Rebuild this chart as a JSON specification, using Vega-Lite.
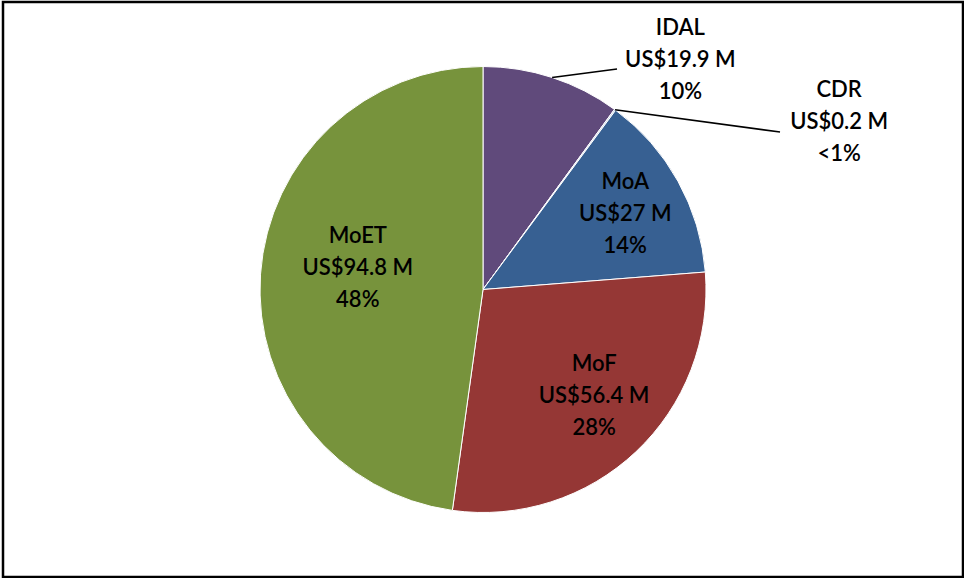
{
  "$schema": "https://vega.github.io/schema/vega-lite/v6.json",
  "width": 964,
  "height": 578,
  "autosize": {"type": "fit", "contains": "padding"},
  "padding": {"left": 3, "top": 2, "right": 1, "bottom": 1},
  "background": "white",
  "view": {"stroke": "black", "strokeWidth": 2.5},
  "config": {"text": {"font": "Lato", "fontSize": 22, "fontWeight": 600, "lineHeight": 32, "color": "black"}},
  "datasets": {
    "budget": [
      {"idx": 1, "name": "IDAL", "value": 19.9, "label": "IDAL\nUS$19.9 M\n10%"},
      {"idx": 2, "name": "CDR", "value": 0.2, "label": "CDR\nUS$0.2 M\n<1%"},
      {"idx": 3, "name": "MoA", "value": 27, "label": "MoA\nUS$27 M\n14%"},
      {"idx": 4, "name": "MoF", "value": 56.4, "label": "MoF\nUS$56.4 M\n28%"},
      {"idx": 5, "name": "MoET", "value": 94.8, "label": "MoET\nUS$94.8 M\n48%"}
    ],
    "leaders": [
      {"name": "IDAL", "x1": 0.310, "y1": 0.951, "x2": 0.601, "y2": 0.989},
      {"name": "CDR", "x1": 0.592, "y1": 0.806, "x2": 1.332, "y2": 0.706}
    ]
  },
  "layer": [
    {
      "data": {"name": "budget"},
      "mark": {"type": "arc", "outerRadius": 223, "stroke": "white", "strokeWidth": 1},
      "encoding": {
        "theta": {"field": "value", "type": "quantitative", "stack": true},
        "order": {"field": "idx", "type": "quantitative"},
        "color": {
          "field": "name", "type": "nominal", "legend": null,
          "scale": {"domain": ["IDAL", "CDR", "MoA", "MoF", "MoET"],
                    "range": ["#604A7B", "#B9CDE5", "#376092", "#953735", "#77933C"]}
        }
      }
    },
    {
      "data": {"name": "budget"},
      "mark": {"type": "text", "radius": 127, "dx": 1.5, "dy": -44.8, "align": "center", "baseline": "middle", "lineBreak": "\n"},
      "encoding": {
        "theta": {"field": "value", "type": "quantitative", "stack": true},
        "order": {"field": "idx", "type": "quantitative"},
        "text": {"condition": {"test": "datum.name === 'MoET'", "field": "label"}, "value": ""}
      }
    },
    {
      "data": {"name": "budget"},
      "mark": {"type": "text", "radius": 154, "dx": 5.5, "dy": -37.4, "align": "center", "baseline": "middle", "lineBreak": "\n"},
      "encoding": {
        "theta": {"field": "value", "type": "quantitative", "stack": true},
        "order": {"field": "idx", "type": "quantitative"},
        "text": {"condition": {"test": "datum.name === 'MoF'", "field": "label"}, "value": ""}
      }
    },
    {
      "data": {"name": "budget"},
      "mark": {"type": "text", "radius": 161, "dx": 1.4, "dy": -29.5, "align": "center", "baseline": "middle", "lineBreak": "\n"},
      "encoding": {
        "theta": {"field": "value", "type": "quantitative", "stack": true},
        "order": {"field": "idx", "type": "quantitative"},
        "text": {"condition": {"test": "datum.name === 'MoA'", "field": "label"}, "value": ""}
      }
    },
    {
      "data": {"name": "budget"},
      "mark": {"type": "text", "radius": 240, "dx": 123, "dy": -33, "align": "center", "baseline": "middle", "lineBreak": "\n"},
      "encoding": {
        "theta": {"field": "value", "type": "quantitative", "stack": true},
        "order": {"field": "idx", "type": "quantitative"},
        "text": {"condition": {"test": "datum.name === 'IDAL'", "field": "label"}, "value": ""}
      }
    },
    {
      "data": {"name": "budget"},
      "mark": {"type": "text", "radius": 240, "dx": 214, "dy": -6, "align": "center", "baseline": "middle", "lineBreak": "\n"},
      "encoding": {
        "theta": {"field": "value", "type": "quantitative", "stack": true},
        "order": {"field": "idx", "type": "quantitative"},
        "text": {"condition": {"test": "datum.name === 'CDR'", "field": "label"}, "value": ""}
      }
    },
    {
      "data": {"name": "leaders"},
      "mark": {"type": "rule", "color": "black", "strokeWidth": 1.6},
      "encoding": {
        "x": {"field": "x1", "type": "quantitative", "axis": null, "scale": {"domain": [-2.1525, 2.1525], "nice": false, "zero": false}},
        "y": {"field": "y1", "type": "quantitative", "axis": null, "scale": {"domain": [-1.2892, 1.2892], "nice": false, "zero": false}},
        "x2": {"field": "x2"},
        "y2": {"field": "y2"}
      }
    }
  ]
}
